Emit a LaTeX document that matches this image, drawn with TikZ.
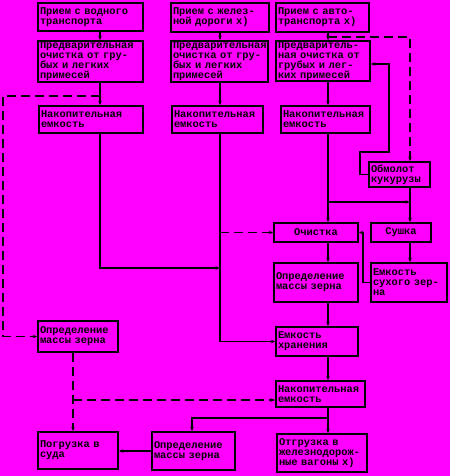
\documentclass[tikz,border=0pt]{standalone}
\usepackage{fontspec}
\setmainfont{Liberation Mono}
\usetikzlibrary{arrows.meta,calc}
\definecolor{bgmag}{RGB}{255,0,255}
\tikzset{
  box/.style={draw=black,line width=1.6pt,inner xsep=2pt,inner ysep=0.5pt,align=left,
    font=\fontsize{10.4}{10}\selectfont\bfseries},
  cbox/.style={box,align=center},
  conn/.style={line width=1.2pt,draw=black},
  arr/.style={conn,-{Stealth[length=4.5pt,width=3.5pt]}},
  dsh/.style={dash pattern=on 9pt off 5pt},
}
\newcommand\mybx[7][box]{%
  \pgfmathsetmacro\myBW{#5-#3}\pgfmathsetmacro\myBH{#6-#4}\pgfmathsetmacro\myTW{#5-#3-4}%
  \node[#1,minimum width=\myBW pt,minimum height=\myBH pt,text width=\myTW pt] (#2) at ({(#3+#5)/2},{(#4+#6)/2}) {#7};}
\begin{document}
\begin{tikzpicture}[x=1pt,y=-1pt]
\fill[bgmag] (0,0) rectangle (450,476);
\useasboundingbox (0,0) rectangle (450,476);
% boxes
\mybx{p1}{38}{3}{143}{31}{Прием с водного\\транспорта}
\mybx{c1}{38}{41}{143}{82}{Предварительная\\очистка от гру-\\бых и легких\\примесей}
\mybx{n1}{39}{106}{143}{133}{Накопительная\\емкость}
\mybx{p2}{171}{3}{269}{32}{Прием с желез-\\ной дороги  х)}
\mybx{c2}{171}{41}{268}{82}{Предварительная\\очистка от гру-\\бых и легких\\примесей}
\mybx{n2}{172}{106}{263}{133}{Накопительная\\емкость}
\mybx{p3}{276}{3}{369}{32}{Прием с авто-\\транспорта х)}
\mybx{c3}{276}{41}{370}{81}{Предваритель-\\ная очистка от\\грубых и лег-\\ких примесей}
\mybx{n3}{281}{106}{370}{133}{Накопительная\\емкость}
\mybx{t1}{369}{162}{430}{187}{Обмолот\\кукурузы}
\mybx[cbox]{o1}{274}{223}{358}{242}{Очистка}
\mybx[cbox]{d1}{371}{223}{431}{242}{Сушка}
\mybx{m2}{274}{263}{358}{302}{Определение\\массы зерна}
\mybx{e1}{371}{263}{447}{302}{Емкость\\сухого зер-\\на}
\mybx{m1}{38}{321}{118}{352}{Определение\\массы зерна}
\mybx{s1}{276}{327}{358}{356}{Емкость\\хранения}
\mybx{n4}{276}{381}{365}{407}{Накопительная\\емкость}
\mybx{g1}{38}{432}{118}{469}{Погрузка в\\суда}
\mybx{m3}{152}{432}{235}{470}{Определение\\массы зерна}
\mybx{u1}{277}{434}{367}{472}{Отгрузка в\\железнодорож-\\ные вагоны х)}
% guide coordinates
\coordinate (v1) at (100,0);
\coordinate (v2) at (220,0);
\coordinate (v3) at (328,0);
\coordinate (v4) at (410,0);
\coordinate (v5) at (192,0);
\coordinate (v6) at (73,0);
\coordinate (j1) at (100,96);
\coordinate (j2) at (220,268);
\coordinate (j3) at (220,232.5);
\coordinate (j4) at (328,202);
\coordinate (j5) at (410,202);
\coordinate (j6) at (328,37);
\coordinate (j7) at (363,232.5);
\coordinate (j8) at (328,418);
\coordinate (j9) at (73,400);
\coordinate (k1) at (360,152);
\coordinate (k2) at (389,64);
% connectors
\draw[arr] (p1.south -| v1) -- (c1.north -| v1);
\draw[arr] (p2.south -| v2) -- (c2.north -| v2);
\draw[arr] (p3.south -| v3) -- (c3.north -| v3);
\draw[arr] (c1.south -| v1) -- (n1.north -| v1);
\draw[arr] (c2.south -| v2) -- (n2.north -| v2);
\draw[arr] (c3.south -| v3) -- (n3.north -| v3);
\draw[arr,dsh] (j1) -- (3,96) |- (m1.west);
\draw[arr] (n1.south -| v1) |- (j2);
\draw[arr] (n2.south -| v2) |- (s1.west);
\draw[arr,dsh] (j3) -- (o1.west);
\draw[arr] (n3.south -| v3) -- (o1.north -| v3);
\draw[arr] (j4) -- (j5);
\draw[arr,dsh] (j6) -| (t1.north -| v4);
\draw[arr] (t1.west) -| (k1) -| (k2) -- (c3.east |- k2);
\draw[arr] (t1.south -| v4) -- (d1.north -| v4);
\draw[arr] (d1.south -| v4) -- (e1.north -| v4);
\draw[arr] (e1.west) -| (j7) -- (o1.east);
\draw[arr] (o1.south -| v3) -- (m2.north -| v3);
\draw[arr] (m2.south -| v3) -- (s1.north -| v3);
\draw[arr] (s1.south -| v3) -- (n4.north -| v3);
\draw[arr] (n4.south -| v3) -- (u1.north -| v3);
\draw[arr] (j8) -| (m3.north -| v5);
\draw[arr] (m3.west) -- (g1.east |- m3.west);
\draw[arr,dsh] (m1.south -| v6) -- (g1.north -| v6);
\draw[arr,dsh] (j9) -- (j9 -| n4.west);
\end{tikzpicture}
\end{document}
